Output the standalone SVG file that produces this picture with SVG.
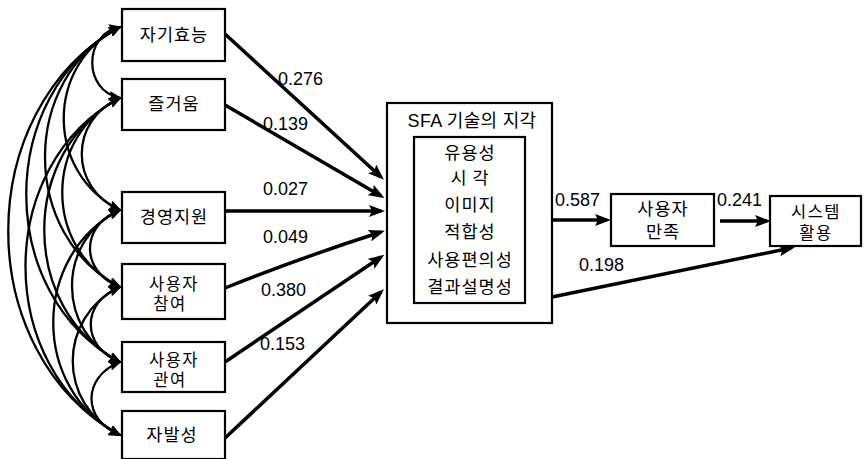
<svg xmlns="http://www.w3.org/2000/svg" width="865" height="459" viewBox="0 0 865 459">
<defs>
<marker id="ah" markerUnits="userSpaceOnUse" markerWidth="16" markerHeight="12" viewBox="0 0 16 12" refX="12" refY="6" orient="auto">
<path d="M0,0 L16,6 L0,12 L3,6 z" fill="#000"/>
</marker>
<marker id="ch" markerUnits="userSpaceOnUse" markerWidth="13" markerHeight="10" viewBox="0 0 13 10" refX="11" refY="5" orient="auto-start-reverse">
<path d="M0,0 L13,5 L0,10 L2,5 z" fill="#000"/>
</marker>
<style>
.box{fill:#fff;stroke:#000;stroke-width:2.2}
.t{font-family:"Liberation Sans","Noto Sans CJK KR",sans-serif;font-size:18px;fill:#000;text-anchor:middle;letter-spacing:0.3px}
.k{font-family:"Noto Sans CJK KR","Liberation Sans",sans-serif;font-size:17.5px;fill:#000;text-anchor:middle;letter-spacing:1px}
.k2{font-family:"Liberation Sans","Noto Sans CJK KR",sans-serif;font-size:16.5px;fill:#000;text-anchor:middle;letter-spacing:1.5px}
.n{font-family:"Liberation Sans",Arial,sans-serif;font-size:18px;fill:#000}
.a{fill:none;stroke:#000;stroke-width:3.5;marker-end:url(#ah)}
.c{fill:none;stroke:#000;stroke-width:2.3;marker-start:url(#ch);marker-end:url(#ch)}
</style>
</defs>
<g id="connectors">
<path class="a" d="M225,34 L381,177"/>
<path class="a" d="M225,105 L381,196"/>
<path class="a" d="M225,211 L381,211"/>
<path class="a" d="M225,288 Q300,258 381,232"/>
<path class="a" d="M225,362 L381,257"/>
<path class="a" d="M225,438 L381,292"/>
<path class="a" d="M552,220 L607,220"/>
<path class="a" d="M720,221 L767,221"/>
<path class="a" d="M552,297 L791,248"/>
<g id="covariances">
<path class="c" d="M120,27 C83,34 83,91 120,98"/>
<path class="c" d="M120,98 C69,120 69,188 120,210"/>
<path class="c" d="M120,210 C80,225 80,272 120,287"/>
<path class="c" d="M120,287 C81,302 81,347 120,362"/>
<path class="c" d="M120,362 C82,377 82,420 120,435"/>
<path class="c" d="M120,27 C45,64 45,173 120,210"/>
<path class="c" d="M120,98 C43,136 43,249 120,287"/>
<path class="c" d="M120,210 C56,240 56,332 120,362"/>
<path class="c" d="M120,287 C57,317 57,405 120,435"/>
<path class="c" d="M120,27 C20,79 20,235 120,287"/>
<path class="c" d="M120,98 C19,151 19,309 120,362"/>
<path class="c" d="M120,210 C31,255 31,390 120,435"/>
<path class="c" d="M120,27 C-5,94 -5,295 120,362"/>
<path class="c" d="M120,98 C-6,165 -6,368 120,435"/>
<path class="c" d="M120,27 C-29,109 -29,353 120,435"/>
</g>
</g>
<g id="n1"><rect class="box" x="122" y="9" width="103" height="52"/><text class="k" x="174" y="41">자기효능</text></g>
<g id="n2"><rect class="box" x="122" y="79" width="103" height="51"/><text class="k" x="174" y="110">즐거움</text></g>
<g id="n3"><rect class="box" x="122" y="192" width="103" height="51"/><text class="k" x="174" y="223">경영지원</text></g>
<g id="n4"><rect class="box" x="122" y="264" width="103" height="55"/><text class="k2"><tspan x="174" y="290">사용자</tspan><tspan x="170" y="310">참여</tspan></text></g>
<g id="n5"><rect class="box" x="122" y="342" width="103" height="50"/><text class="k2"><tspan x="174" y="366">사용자</tspan><tspan x="170" y="386">관여</tspan></text></g>
<g id="n6"><rect class="box" x="122" y="411" width="103" height="48"/><text class="k" x="172" y="441">자발성</text></g>
<g id="sfa">
<rect class="box" x="387" y="103" width="165" height="220"/>
<text class="t" x="472" y="127">SFA 기술의 지각</text>
<rect class="box" x="414" y="137" width="111" height="166"/>
<text class="k" x="470" y="159">유용성</text>
<text class="k" x="470" y="184">시 각</text>
<text class="k" x="470" y="211">이미지</text>
<text class="k" x="470" y="238">적합성</text>
<text class="k" x="470" y="266">사용편의성</text>
<text class="k" x="470" y="293">결과설명성</text>
</g>
<g id="sat"><rect class="box" x="611" y="194" width="103" height="52"/><text class="k"><tspan x="663" y="215">사용자</tspan><tspan x="663" y="238">만족</tspan></text></g>
<g id="use"><rect class="box" x="770" y="196" width="91" height="50"/><text class="k2"><tspan x="816" y="218">시스템</tspan><tspan x="816" y="239">활용</tspan></text></g>
<g id="labels">
<text class="n" x="278" y="85">0.276</text>
<text class="n" x="263" y="130">0.139</text>
<text class="n" x="263" y="195">0.027</text>
<text class="n" x="263" y="243">0.049</text>
<text class="n" x="261" y="296">0.380</text>
<text class="n" x="260" y="350">0.153</text>
<text class="n" x="555" y="206">0.587</text>
<text class="n" x="717" y="206">0.241</text>
<text class="n" x="579" y="271">0.198</text>
</g>
</svg>
